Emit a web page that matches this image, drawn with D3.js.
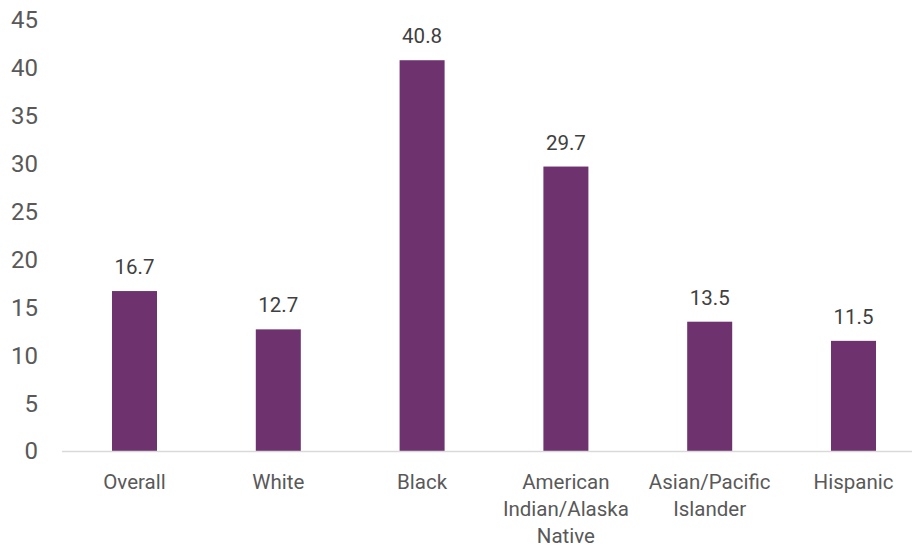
<!DOCTYPE html>
<html><head><meta charset="utf-8">
<script src="https://cdn.jsdelivr.net/npm/d3@7"></script>
<style>body{margin:0;background:#fff;}svg{display:block;font-family:Roboto,"Open Sans",sans-serif;}</style>
</head><body>
<svg id="c" width="912" height="548"></svg>
<script>
const categories = ["Overall", "White", "Black", "American Indian/Alaska Native", "Asian/Pacific Islander", "Hispanic"];
const categoryLines = [["Overall"], ["White"], ["Black"], ["American", "Indian/Alaska", "Native"], ["Asian/Pacific", "Islander"], ["Hispanic"]];
const values = [16.7, 12.7, 40.8, 29.7, 13.5, 11.5];
const yTicks = [0, 5, 10, 15, 20, 25, 30, 35, 40, 45];

const svg = d3.select("#c");
const x = d3.scaleBand().domain(categories).range([62.6, 925.4]).paddingInner(0.687).paddingOuter(0.3435);
const y = d3.scaleLinear().domain([0, 45]).range([451, 20]);

// y tick labels
svg.append("g").selectAll("text").data(yTicks).join("text")
  .attr("x", 38).attr("y", d => y(d)).attr("dy", "0.35em")
  .attr("text-anchor", "end").attr("font-size", 24).attr("fill", "#595959")
  .text(d => d);

// bars
svg.append("g").selectAll("rect").data(values).join("rect")
  .attr("x", (d, i) => x(categories[i])).attr("width", x.bandwidth())
  .attr("y", d => y(d)).attr("height", d => y(0) - y(d))
  .attr("fill", "#6E336E");

// baseline
svg.append("line").attr("x1", 62).attr("x2", 912).attr("y1", y(0) + 0.5).attr("y2", y(0) + 0.5)
  .attr("stroke", "#d9d9d9").attr("stroke-width", 1.5);

// value labels
svg.append("g").selectAll("text").data(values).join("text")
  .attr("x", (d, i) => x(categories[i]) + x.bandwidth() / 2)
  .attr("y", d => y(d) - 17)
  .attr("text-anchor", "middle").attr("font-size", 20.5).attr("fill", "#404040")
  .text(d => d.toFixed(1));

// category labels
const cg = svg.append("g");
categories.forEach((c, i) => {
  const t = cg.append("text").attr("text-anchor", "middle").attr("font-size", 20.5).attr("fill", "#595959");
  categoryLines[i].forEach((ln, j) => {
    t.append("tspan").attr("x", x(c) + x.bandwidth() / 2).attr("y", 488.5 + j * 27).text(ln);
  });
});
</script>
</body></html>
